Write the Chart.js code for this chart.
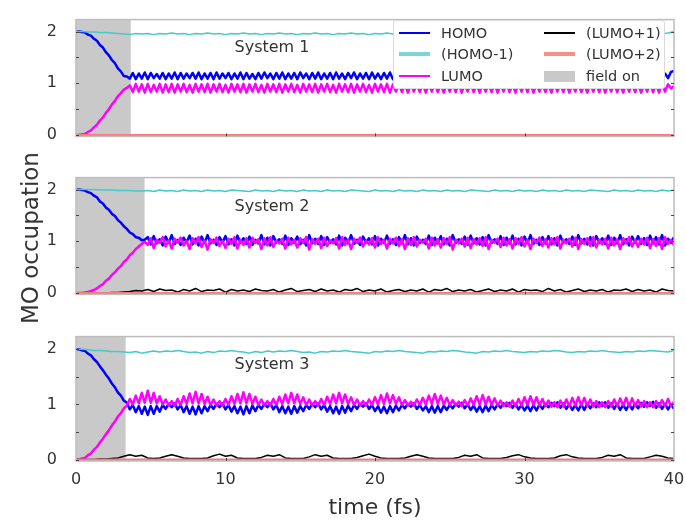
<!DOCTYPE html>
<html lang="en">
<head>
  <meta charset="UTF-8">
  <title>MO occupation</title>
  <script src="https://cdn.jsdelivr.net/npm/chart.js"></script>
  <style>
    body { margin: 0; background: #fff; overflow: hidden; font-family: "DejaVu Sans", sans-serif; }
    #wrap { position: relative; width: 686px; height: 521px; }
    canvas { position: absolute; left: 0; }
    .sys { position: absolute; transform: translate(-50%, -50%); font-size: 16px; color: #333; white-space: nowrap; z-index: 2; }
    #ylabel { position: absolute; left: 30px; top: 238px; transform: translate(-50%, -50%) rotate(-90deg);
              font-size: 23px; color: #333; white-space: nowrap; }
    #legend { position: absolute; left: 393px; top: 20px; width: 272px; height: 69px; background: #fff;
              border: 1px solid #dadada; border-radius: 3px; box-sizing: border-box; z-index: 3; }
    #legend .ln { position: absolute; width: 31px; }
    #legend .tx { position: absolute; font-size: 14.5px; color: #333; transform: translateY(-50%); white-space: nowrap; }
  </style>
</head>
<body>
<div id="wrap">
  <canvas id="c1"></canvas>
  <canvas id="c2"></canvas>
  <canvas id="c3"></canvas>
  <div class="sys" style="left:272px; top:46px">System 1</div>
  <div class="sys" style="left:272px; top:205px">System 2</div>
  <div class="sys" style="left:272px; top:363px">System 3</div>
  <div id="ylabel">MO occupation</div>
  <div id="legend"></div>
</div>

<script>
  // time grids (fs)
  const time = [
    0,0.2,0.4,0.6,0.8,1,1.2,1.4,1.6,1.8,
    2,2.2,2.4,2.6,2.8,3,3.2,3.4,3.6,3.8,
    4,4.2,4.4,4.6,4.8,5,5.2,5.4,5.6,5.8,
    6,6.2,6.4,6.6,6.8,7,7.2,7.4,7.6,7.8,
    8,8.2,8.4,8.6,8.8,9,9.2,9.4,9.6,9.8,
    10,10.2,10.4,10.6,10.8,11,11.2,11.4,11.6,11.8,
    12,12.2,12.4,12.6,12.8,13,13.2,13.4,13.6,13.8,
    14,14.2,14.4,14.6,14.8,15,15.2,15.4,15.6,15.8,
    16,16.2,16.4,16.6,16.8,17,17.2,17.4,17.6,17.8,
    18,18.2,18.4,18.6,18.8,19,19.2,19.4,19.6,19.8,
    20,20.2,20.4,20.6,20.8,21,21.2,21.4,21.6,21.8,
    22,22.2,22.4,22.6,22.8,23,23.2,23.4,23.6,23.8,
    24,24.2,24.4,24.6,24.8,25,25.2,25.4,25.6,25.8,
    26,26.2,26.4,26.6,26.8,27,27.2,27.4,27.6,27.8,
    28,28.2,28.4,28.6,28.8,29,29.2,29.4,29.6,29.8,
    30,30.2,30.4,30.6,30.8,31,31.2,31.4,31.6,31.8,
    32,32.2,32.4,32.6,32.8,33,33.2,33.4,33.6,33.8,
    34,34.2,34.4,34.6,34.8,35,35.2,35.4,35.6,35.8,
    36,36.2,36.4,36.6,36.8,37,37.2,37.4,37.6,37.8,
    38,38.2,38.4,38.6,38.8,39,39.2,39.4,39.6,39.8,
    40
  ];
  const timeB = [
    0,0.4,0.8,1.2,1.6,2,2.4,2.8,3.2,3.6,
    4,4.4,4.8,5.2,5.6,6,6.4,6.8,7.2,7.6,
    8,8.4,8.8,9.2,9.6,10,10.4,10.8,11.2,11.6,
    12,12.4,12.8,13.2,13.6,14,14.4,14.8,15.2,15.6,
    16,16.4,16.8,17.2,17.6,18,18.4,18.8,19.2,19.6,
    20,20.4,20.8,21.2,21.6,22,22.4,22.8,23.2,23.6,
    24,24.4,24.8,25.2,25.6,26,26.4,26.8,27.2,27.6,
    28,28.4,28.8,29.2,29.6,30,30.4,30.8,31.2,31.6,
    32,32.4,32.8,33.2,33.6,34,34.4,34.8,35.2,35.6,
    36,36.4,36.8,37.2,37.6,38,38.4,38.8,39.2,39.6,
    40
  ];
  const timeFlat = [0, 40];

  const xTicks = [0, 10, 20, 30, 40];
  const yTicks = [0, 1, 2];
  const yMinor = [0.5, 1.5];
  const panelNames = ['System 1', 'System 2', 'System 3'];
  const fieldOff = [3.67, 4.6, 3.33];

  // System 1
  const sys1Homo = [
    2.00,2.00,1.99,1.98,1.94,1.92,1.86,1.82,1.74,1.69,
    1.60,1.54,1.45,1.39,1.29,1.23,1.14,1.13,1.09,1.20,
    1.08,1.19,1.09,1.21,1.08,1.20,1.10,1.18,1.09,1.20,
    1.08,1.19,1.09,1.21,1.08,1.20,1.09,1.19,1.10,1.20,
    1.09,1.21,1.08,1.19,1.09,1.20,1.08,1.21,1.09,1.19,
    1.10,1.20,1.08,1.19,1.09,1.21,1.08,1.20,1.09,1.18,
    1.08,1.20,1.09,1.21,1.10,1.19,1.08,1.20,1.09,1.21,
    1.08,1.19,1.09,1.20,1.08,1.21,1.10,1.19,1.08,1.20,
    1.09,1.21,1.08,1.19,1.09,1.20,1.08,1.21,1.09,1.19,
    1.08,1.20,1.10,1.21,1.08,1.19,1.09,1.20,1.08,1.21,
    1.09,1.19,1.08,1.20,1.09,1.21,1.08,1.19,1.10,1.20,
    1.08,1.21,1.09,1.19,1.08,1.20,1.09,1.21,1.08,1.19,
    1.09,1.20,1.08,1.21,1.10,1.19,1.08,1.20,1.09,1.21,
    1.08,1.19,1.09,1.20,1.08,1.21,1.09,1.19,1.08,1.20,
    1.10,1.21,1.08,1.19,1.09,1.20,1.08,1.21,1.09,1.19,
    1.08,1.20,1.09,1.21,1.08,1.19,1.10,1.20,1.08,1.21,
    1.09,1.19,1.08,1.20,1.09,1.21,1.08,1.19,1.09,1.20,
    1.08,1.21,1.10,1.19,1.08,1.20,1.09,1.21,1.08,1.19,
    1.09,1.20,1.08,1.21,1.09,1.19,1.08,1.20,1.10,1.21,
    1.08,1.19,1.09,1.20,1.08,1.21,1.09,1.19,1.10,1.22,
    1.24
  ];
  const sys1Lumo = [
    0.00,0.00,0.01,0.02,0.06,0.09,0.15,0.20,0.28,0.34,
    0.43,0.50,0.59,0.66,0.75,0.81,0.88,0.91,0.96,0.83,
    0.99,0.84,0.98,0.82,0.99,0.83,0.97,0.84,0.99,0.82,
    0.98,0.83,0.99,0.82,0.98,0.84,0.99,0.83,0.97,0.82,
    0.99,0.84,0.98,0.83,0.99,0.82,0.98,0.84,0.99,0.83,
    0.97,0.82,0.99,0.84,0.98,0.83,0.99,0.82,0.98,0.84,
    0.99,0.83,0.97,0.82,0.99,0.84,0.98,0.83,0.99,0.82,
    0.98,0.84,0.99,0.83,0.97,0.82,0.99,0.84,0.98,0.83,
    0.99,0.82,0.98,0.84,0.99,0.83,0.97,0.82,0.99,0.84,
    0.98,0.83,0.99,0.82,0.98,0.84,0.99,0.83,0.97,0.82,
    0.99,0.84,0.98,0.83,0.99,0.82,0.98,0.84,0.99,0.83,
    0.97,0.82,0.99,0.84,0.98,0.83,0.99,0.82,0.98,0.84,
    0.99,0.83,0.97,0.82,0.99,0.84,0.98,0.83,0.99,0.82,
    0.98,0.84,0.99,0.83,0.97,0.82,0.99,0.84,0.98,0.83,
    0.99,0.82,0.98,0.84,0.99,0.83,0.97,0.82,0.99,0.84,
    0.98,0.83,0.99,0.82,0.98,0.84,0.99,0.83,0.97,0.82,
    0.99,0.84,0.98,0.83,0.99,0.82,0.98,0.84,0.99,0.83,
    0.97,0.82,0.99,0.84,0.98,0.83,0.99,0.82,0.98,0.84,
    0.99,0.83,0.97,0.82,0.99,0.84,0.98,0.83,0.99,0.82,
    0.98,0.84,0.99,0.83,0.97,0.82,0.99,0.84,0.98,0.90,
    0.95
  ];
  const sys1HomoM1 = [
    2.00,2.00,1.99,1.99,1.98,1.98,1.97,1.96,1.95,1.94,
    1.96,1.95,1.96,1.94,1.96,1.95,1.97,1.95,1.96,1.94,
    1.96,1.95,1.97,1.95,1.96,1.94,1.96,1.95,1.97,1.95,
    1.96,1.94,1.96,1.95,1.97,1.95,1.96,1.94,1.96,1.95,
    1.97,1.95,1.96,1.94,1.96,1.95,1.97,1.95,1.96,1.94,
    1.96,1.95,1.97,1.95,1.96,1.94,1.96,1.95,1.97,1.95,
    1.96,1.94,1.96,1.95,1.97,1.95,1.96,1.94,1.96,1.95,
    1.97,1.95,1.96,1.94,1.96,1.95,1.97,1.95,1.96,1.94,
    1.96,1.95,1.97,1.95,1.96,1.94,1.96,1.95,1.97,1.95,
    1.96,1.94,1.96,1.95,1.97,1.95,1.96,1.94,1.96,1.97,
    2.00
  ];
  const sys1LumoP1 = [0, 0];
  const sys1LumoP2 = [0, 0];

  // System 2
  const sys2Homo = [
    2.00,2.00,1.99,1.98,1.95,1.93,1.88,1.85,1.77,1.73,
    1.65,1.61,1.53,1.49,1.41,1.36,1.29,1.24,1.17,1.14,
    1.08,1.07,1.02,1.03,1.08,0.94,1.10,0.96,1.04,0.92,
    1.09,0.97,1.12,0.95,1.03,0.93,1.07,0.98,1.11,0.94,
    1.05,0.92,1.09,0.97,1.12,0.96,1.03,0.93,1.08,0.98,
    1.10,0.94,1.04,0.92,1.11,0.97,1.06,0.95,1.09,0.93,
    1.03,0.96,1.12,0.94,1.07,0.92,1.10,0.98,1.04,0.95,
    1.11,0.93,1.06,0.97,1.09,0.94,1.03,0.92,1.12,0.96,
    1.05,0.95,1.10,0.93,1.08,0.97,1.04,0.94,1.11,0.92,
    1.07,0.96,1.12,0.95,1.03,0.93,1.09,0.98,1.06,0.94,
    1.10,0.92,1.05,0.97,1.11,0.95,1.04,0.93,1.08,0.96,
    1.12,0.94,1.06,0.92,1.09,0.97,1.03,0.95,1.11,0.93,
    1.07,0.96,1.10,0.94,1.05,0.92,1.12,0.97,1.04,0.95,
    1.09,0.93,1.11,0.96,1.06,0.94,1.08,0.92,1.12,0.97,
    1.04,0.95,1.10,0.93,1.07,0.96,1.11,0.94,1.05,0.92,
    1.09,0.97,1.12,0.95,1.03,0.93,1.08,0.96,1.10,0.94,
    1.06,0.92,1.11,0.97,1.04,0.95,1.09,0.93,1.12,0.96,
    1.05,0.94,1.08,0.92,1.10,0.97,1.06,0.95,1.11,0.93,
    1.07,0.96,1.12,0.94,1.04,0.92,1.09,0.97,1.10,0.95,
    1.06,0.93,1.11,0.96,1.08,0.94,1.12,0.92,1.05,0.97,
    1.08
  ];
  const sys2Lumo = [
    0.00,0.00,0.00,0.01,0.02,0.04,0.06,0.09,0.14,0.17,
    0.24,0.28,0.35,0.40,0.47,0.52,0.60,0.65,0.73,0.78,
    0.85,0.90,0.95,0.99,0.93,1.06,0.87,1.03,0.97,1.08,
    0.90,1.02,0.86,1.05,0.98,1.07,0.92,1.01,0.85,1.06,
    0.96,1.08,0.89,1.02,0.84,1.04,0.97,1.07,0.91,1.01,
    0.87,1.05,0.95,1.08,0.86,1.03,0.93,1.06,0.88,1.07,
    0.97,1.04,0.85,1.06,0.92,1.08,0.89,1.01,0.96,1.05,
    0.86,1.07,0.94,1.03,0.88,1.06,0.97,1.08,0.84,1.04,
    0.95,1.05,0.87,1.07,0.91,1.02,0.96,1.06,0.86,1.08,
    0.93,1.04,0.85,1.05,0.97,1.07,0.90,1.01,0.94,1.06,
    0.88,1.08,0.95,1.03,0.86,1.05,0.96,1.07,0.91,1.04,
    0.85,1.06,0.93,1.08,0.90,1.03,0.97,1.05,0.86,1.07,
    0.92,1.04,0.88,1.06,0.95,1.08,0.84,1.03,0.96,1.05,
    0.90,1.07,0.87,1.04,0.94,1.06,0.91,1.08,0.85,1.03,
    0.97,1.05,0.89,1.07,0.92,1.04,0.86,1.06,0.95,1.08,
    0.90,1.03,0.85,1.05,0.97,1.07,0.91,1.04,0.88,1.06,
    0.94,1.08,0.86,1.03,0.96,1.05,0.90,1.07,0.85,1.04,
    0.95,1.06,0.91,1.08,0.88,1.03,0.94,1.05,0.86,1.07,
    0.92,1.04,0.85,1.06,0.96,1.08,0.90,1.03,0.89,1.05,
    0.94,1.07,0.87,1.04,0.91,1.06,0.85,1.08,0.95,1.03,
    0.92
  ];
  const sys2HomoM1 = [
    2.00,2.00,2.00,2.00,1.99,1.99,1.99,1.98,1.98,1.98,
    1.97,1.97,1.98,1.96,1.99,1.97,1.98,1.96,1.99,1.97,
    1.98,1.96,1.99,1.97,1.98,1.96,1.99,1.98,1.97,1.96,
    1.99,1.97,1.98,1.96,1.99,1.97,1.98,1.96,1.99,1.97,
    1.98,1.96,1.99,1.97,1.98,1.96,1.99,1.98,1.97,1.96,
    1.99,1.97,1.98,1.96,1.99,1.97,1.98,1.96,1.99,1.97,
    1.98,1.96,1.99,1.97,1.98,1.96,1.99,1.98,1.97,1.96,
    1.99,1.97,1.98,1.96,1.99,1.97,1.98,1.96,1.99,1.97,
    1.98,1.96,1.99,1.97,1.98,1.96,1.99,1.98,1.97,1.96,
    1.99,1.97,1.98,1.96,1.99,1.97,1.98,1.96,1.99,1.97,
    1.99
  ];
  const sys2LumoP1 = [
    0.00,0.00,0.00,0.00,0.00,0.00,0.01,0.01,0.02,0.03,
    0.05,0.04,0.07,0.03,0.08,0.05,0.06,0.02,0.07,0.04,
    0.09,0.03,0.06,0.05,0.08,0.02,0.07,0.04,0.06,0.03,
    0.08,0.05,0.04,0.07,0.02,0.06,0.09,0.03,0.05,0.07,
    0.03,0.08,0.04,0.06,0.02,0.07,0.05,0.09,0.03,0.06,
    0.04,0.08,0.02,0.05,0.07,0.03,0.06,0.04,0.08,0.02,
    0.07,0.05,0.09,0.03,0.06,0.04,0.07,0.02,0.05,0.08,
    0.03,0.06,0.04,0.08,0.02,0.07,0.05,0.06,0.03,0.09,
    0.04,0.07,0.02,0.05,0.08,0.03,0.06,0.04,0.07,0.02,
    0.06,0.05,0.08,0.03,0.07,0.04,0.06,0.02,0.08,0.05,
    0.04
  ];
  const sys2LumoP2 = [0, 0];

  // System 3
  const sys3Homo = [
    2.00,2.00,1.98,1.97,1.92,1.89,1.82,1.77,1.69,1.62,
    1.54,1.47,1.38,1.31,1.22,1.16,1.07,1.03,0.91,0.99,
    0.86,0.97,0.83,0.96,0.81,0.97,0.83,0.97,0.87,0.99,
    0.92,1.01,0.95,1.02,0.91,0.99,0.86,0.97,0.83,0.96,
    0.82,0.97,0.84,0.97,0.88,0.99,0.92,1.01,0.95,1.02,
    0.91,0.99,0.87,0.97,0.84,0.96,0.82,0.97,0.84,0.98,
    0.88,0.99,0.92,1.01,0.95,1.02,0.91,0.99,0.86,0.97,
    0.84,0.96,0.83,0.97,0.85,0.97,0.88,0.99,0.92,1.01,
    0.95,1.02,0.91,0.99,0.87,0.97,0.84,0.96,0.83,0.97,
    0.85,0.98,0.88,0.99,0.92,1.01,0.96,1.02,0.92,0.99,
    0.88,0.97,0.85,0.96,0.84,0.97,0.86,0.98,0.89,0.99,
    0.93,1.01,0.96,1.02,0.92,0.99,0.89,0.97,0.86,0.97,
    0.85,0.97,0.86,0.98,0.90,0.99,0.93,1.01,0.96,1.03,
    0.93,1.00,0.90,0.98,0.87,0.97,0.86,0.98,0.88,0.99,
    0.91,1.00,0.94,1.02,0.97,1.03,0.94,1.01,0.91,0.99,
    0.89,0.98,0.88,0.99,0.89,1.00,0.92,1.01,0.95,1.03,
    0.97,1.04,0.94,1.02,0.92,1.00,0.90,0.99,0.89,1.00,
    0.90,1.01,0.93,1.02,0.95,1.04,0.97,1.04,0.94,1.02,
    0.92,1.01,0.90,0.99,0.90,1.00,0.91,1.01,0.93,1.03,
    0.96,1.04,0.97,1.05,0.94,1.02,0.92,1.01,0.91,1.00,
    0.92
  ];
  const sys3Lumo = [
    0.00,0.00,0.02,0.03,0.08,0.11,0.18,0.23,0.31,0.38,
    0.46,0.53,0.62,0.69,0.78,0.84,0.93,0.98,1.10,1.00,
    1.16,1.02,1.21,1.03,1.25,1.03,1.21,1.02,1.15,1.00,
    1.09,0.98,1.06,0.98,1.10,0.99,1.15,1.01,1.20,1.02,
    1.23,1.02,1.19,1.01,1.14,0.99,1.09,0.98,1.06,0.98,
    1.10,0.99,1.15,1.01,1.19,1.02,1.22,1.02,1.19,1.01,
    1.14,0.99,1.09,0.98,1.06,0.98,1.10,0.99,1.14,1.01,
    1.18,1.02,1.21,1.02,1.18,1.01,1.13,0.99,1.09,0.98,
    1.06,0.98,1.10,0.99,1.14,1.01,1.18,1.02,1.21,1.02,
    1.18,1.01,1.13,0.99,1.09,0.98,1.06,0.98,1.09,0.99,
    1.13,1.00,1.17,1.01,1.20,1.02,1.17,1.01,1.13,0.99,
    1.08,0.98,1.05,0.98,1.09,0.99,1.12,1.00,1.16,1.01,
    1.19,1.01,1.16,1.00,1.12,0.99,1.08,0.98,1.05,0.97,
    1.08,0.98,1.11,0.99,1.15,1.00,1.17,1.00,1.14,0.99,
    1.11,0.98,1.07,0.97,1.04,0.96,1.07,0.97,1.10,0.98,
    1.13,0.99,1.15,0.99,1.13,0.98,1.10,0.97,1.07,0.96,
    1.04,0.95,1.07,0.96,1.09,0.97,1.12,0.98,1.13,0.98,
    1.12,0.97,1.09,0.96,1.06,0.95,1.04,0.95,1.06,0.96,
    1.09,0.97,1.11,0.98,1.12,0.97,1.11,0.97,1.08,0.96,
    1.06,0.95,1.04,0.95,1.06,0.96,1.08,0.97,1.10,0.97,
    1.05
  ];
  const sys3HomoM1 = [
    2.00,2.00,1.99,1.98,1.98,1.97,1.96,1.96,1.95,1.94,
    1.96,1.93,1.95,1.97,1.95,1.97,1.96,1.98,1.96,1.94,
    1.95,1.93,1.96,1.94,1.97,1.96,1.98,1.96,1.95,1.93,
    1.96,1.94,1.97,1.95,1.97,1.96,1.98,1.96,1.94,1.95,
    1.93,1.96,1.95,1.97,1.96,1.98,1.96,1.95,1.94,1.93,
    1.96,1.95,1.97,1.96,1.98,1.96,1.95,1.94,1.93,1.96,
    1.95,1.97,1.96,1.98,1.97,1.95,1.94,1.93,1.96,1.95,
    1.97,1.96,1.98,1.96,1.95,1.94,1.96,1.95,1.97,1.96,
    1.98,1.97,1.95,1.94,1.96,1.95,1.97,1.96,1.98,1.96,
    1.95,1.94,1.96,1.95,1.97,1.96,1.98,1.97,1.96,1.95,
    1.98
  ];
  const sys3LumoP1 = [
    0.00,0.00,0.00,0.00,0.01,0.01,0.02,0.03,0.06,0.09,
    0.06,0.08,0.03,0.02,0.03,0.06,0.09,0.06,0.03,0.02,
    0.02,0.02,0.03,0.07,0.10,0.06,0.08,0.03,0.02,0.02,
    0.02,0.04,0.08,0.06,0.09,0.03,0.02,0.02,0.02,0.05,
    0.09,0.06,0.08,0.03,0.02,0.02,0.02,0.04,0.07,0.10,
    0.06,0.03,0.02,0.02,0.02,0.03,0.06,0.09,0.06,0.03,
    0.02,0.02,0.02,0.02,0.04,0.08,0.06,0.09,0.03,0.02,
    0.02,0.02,0.04,0.07,0.09,0.05,0.03,0.02,0.02,0.02,
    0.03,0.07,0.09,0.05,0.03,0.02,0.02,0.02,0.04,0.08,
    0.06,0.09,0.03,0.02,0.02,0.02,0.05,0.08,0.06,0.03,
    0.02
  ];
  const sys3LumoP2 = [0, 0];

  const yMin = -0.025, yMax = 2.23;
  const colors = {
    homo: '#0000ff', homoM1: '#45c9c9', lumo: '#ff00ff',
    lumoP1: '#000000', lumoP2: '#f07c7c', field: '#c9c9c9'
  };

  const panels = [
    { id: 'c1', top: 11, bottom: 145, homo: sys1Homo, homoM1: sys1HomoM1, lumo: sys1Lumo,
      lumoP1: sys1LumoP1, p1Time: timeFlat, lumoP2: sys1LumoP2 },
    { id: 'c2', top: 169, bottom: 303, homo: sys2Homo, homoM1: sys2HomoM1, lumo: sys2Lumo,
      lumoP1: sys2LumoP1, p1Time: timeB, lumoP2: sys2LumoP2 },
    { id: 'c3', top: 328, bottom: 461, homo: sys3Homo, homoM1: sys3HomoM1, lumo: sys3Lumo,
      lumoP1: sys3LumoP1, p1Time: timeB, lumoP2: sys3LumoP2 }
  ];

  Chart.defaults.font.family = "'DejaVu Sans', sans-serif";

  const pts = (xs, ys) => ys.map((y, i) => ({ x: xs[i], y: y }));

  // frame and inward ticks
  const framePlugin = {
    id: 'frame',
    afterDatasetsDraw(chart) {
      const { ctx, chartArea: a, scales: { x, y } } = chart;
      ctx.save();
      ctx.strokeStyle = '#bdbdbd';
      ctx.lineWidth = 1.5;
      ctx.strokeRect(a.left, a.top, a.right - a.left, a.bottom - a.top);
      ctx.strokeStyle = '#444';
      ctx.lineWidth = 1;
      ctx.beginPath();
      yTicks.concat(yMinor).forEach(v => {
        const py = Math.round(y.getPixelForValue(v)) + 0.5;
        ctx.moveTo(a.left, py); ctx.lineTo(a.left + 3, py);
        ctx.moveTo(a.right, py); ctx.lineTo(a.right - 3, py);
      });
      xTicks.slice(1, -1).forEach(v => {
        const px = Math.round(x.getPixelForValue(v)) + 0.5;
        ctx.moveTo(px, a.bottom); ctx.lineTo(px, a.bottom - 3);
      });
      ctx.stroke();
      ctx.restore();
    }
  };

  function line(label, data, color, width, order) {
    return {
      label: label, data: data, borderColor: color, backgroundColor: color,
      borderWidth: width, pointRadius: 0, tension: 0, fill: false,
      borderJoinStyle: 'round', order: order
    };
  }

  panels.forEach((p, k) => {
    const last = k === panels.length - 1;
    const canvas = document.getElementById(p.id);
    const h = last ? 521 - (p.top - 12) : p.bottom - p.top + 24;
    canvas.width = 686;
    canvas.height = h;
    canvas.style.top = (p.top - 12) + 'px';

    new Chart(canvas.getContext('2d'), {
      type: 'line',
      data: {
        datasets: [
          line('(LUMO+2)', pts(timeFlat, p.lumoP2), colors.lumoP2, 2.2, 0),
          line('(LUMO+1)', pts(p.p1Time, p.lumoP1), colors.lumoP1, 1.5, 1),
          line('LUMO', pts(time, p.lumo), colors.lumo, 2.5, 2),
          line('(HOMO-1)', pts(timeB, p.homoM1), colors.homoM1, 1.5, 3),
          line('HOMO', pts(time, p.homo), colors.homo, 2.5, 4),
          {
            label: 'field on',
            data: [{ x: 0, y: yMax }, { x: fieldOff[k], y: yMax }],
            borderColor: 'rgba(0,0,0,0)', backgroundColor: colors.field,
            borderWidth: 0, pointRadius: 0, fill: 'start', order: 5
          }
        ]
      },
      options: {
        responsive: false,
        animation: false,
        layout: { padding: { top: 12, right: 12, left: 0, bottom: 0 } },
        plugins: { legend: { display: false }, tooltip: { enabled: false } },
        scales: {
          x: {
            type: 'linear', min: 0, max: 40,
            grid: { display: false }, border: { display: false },
            ticks: { display: last, color: '#333', font: { size: 16 }, padding: 1 },
            title: { display: last, text: 'time (fs)', color: '#333', font: { size: 22 },
                     padding: { top: 0, bottom: 0 } },
            afterBuildTicks: s => { s.ticks = xTicks.map(v => ({ value: v })); },
            afterFit: s => { s.height = last ? h - 12 - (p.bottom - p.top) : 12; }
          },
          y: {
            min: yMin, max: yMax,
            grid: { display: false }, border: { display: false },
            ticks: { color: '#333', font: { size: 16 }, padding: 11 },
            afterBuildTicks: s => { s.ticks = yTicks.map(v => ({ value: v })); },
            afterFit: s => { s.width = 76; }
          }
        }
      },
      plugins: [framePlugin]
    });
  });

  // legend (first panel only)
  const legendItems = [
    { label: 'HOMO', color: colors.homo, w: 2.5, col: 0, row: 0 },
    { label: '(HOMO-1)', color: '#7fd5d5', w: 3.5, col: 0, row: 1 },
    { label: 'LUMO', color: colors.lumo, w: 2, col: 0, row: 2 },
    { label: '(LUMO+1)', color: colors.lumoP1, w: 2.5, col: 1, row: 0 },
    { label: '(LUMO+2)', color: '#f58f8a', w: 3.5, col: 1, row: 1 },
    { label: 'field on', color: colors.field, w: 11, col: 1, row: 2 }
  ];
  const legend = document.getElementById('legend');
  const rowY = [12, 33, 55];
  const colX = [5, 150];
  legendItems.forEach(it => {
    const ln = document.createElement('div');
    ln.className = 'ln';
    ln.style.left = colX[it.col] + 'px';
    ln.style.top = (rowY[it.row] - it.w / 2) + 'px';
    ln.style.height = it.w + 'px';
    ln.style.background = it.color;
    legend.appendChild(ln);
    const tx = document.createElement('div');
    tx.className = 'tx';
    tx.style.left = (colX[it.col] + 42) + 'px';
    tx.style.top = rowY[it.row] + 'px';
    tx.textContent = it.label;
    legend.appendChild(tx);
  });
</script>
</body>
</html>
